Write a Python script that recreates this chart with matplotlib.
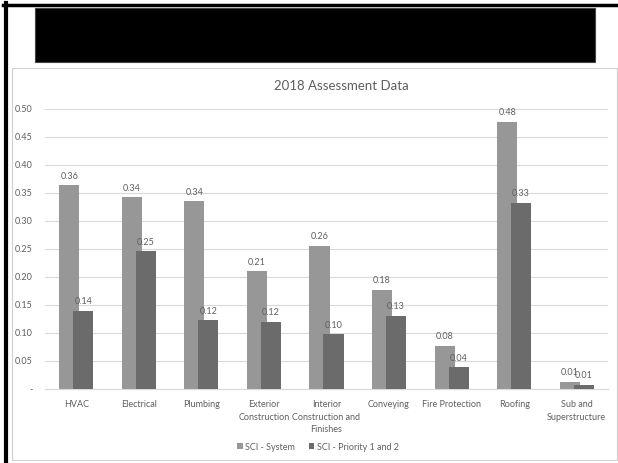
import numpy as np
import matplotlib
matplotlib.use('Agg')
import matplotlib.pyplot as plt
from matplotlib.patches import Rectangle

plt.rcParams['font.family'] = ['Lato', 'DejaVu Sans']

# Данные оценки 2018
categories = ['HVAC', 'Electrical', 'Plumbing', 'Exterior\nConstruction',
              'Interior\nConstruction and\nFinishes', 'Conveying', 'Fire Protection',
              'Roofing', 'Sub and\nSuperstructure']
sci_system = [0.364, 0.342, 0.335, 0.210, 0.256, 0.177, 0.077, 0.477, 0.013]
sci_priority = [0.140, 0.246, 0.123, 0.120, 0.098, 0.131, 0.039, 0.333, 0.008]
yticks = [0, 0.05, 0.10, 0.15, 0.20, 0.25, 0.30, 0.35, 0.40, 0.45, 0.50]
ytick_labels = ['-'] + ['%.2f' % v for v in yticks[1:]]

light = '#979797'
dark = '#6b6b6b'
text_c = '#5f5f5f'
grid_c = '#d9d9d9'

fig = plt.figure(figsize=(6.18, 4.63), dpi=100)
W, H = 618, 463

def fx(px):
    return px / W

def fy(py):
    return 1 - py / H

# Рамки и закрашенный блок сверху
fig.patches.append(Rectangle((fx(12), fy(460)), fx(605), 392 / H, transform=fig.transFigure,
                             facecolor='white', edgecolor='#d0d0d0', linewidth=0.8, zorder=-5))
fig.patches.append(Rectangle((fx(35), fy(62)), fx(560), 54 / H, transform=fig.transFigure,
                             facecolor='black', edgecolor='#444444', linewidth=0.8, zorder=-4))
fig.lines.append(plt.Line2D([fx(3), 1], [fy(4.5), fy(4.5)], transform=fig.transFigure,
                            color='black', linewidth=2.5, zorder=-4))
fig.lines.append(plt.Line2D([fx(5.5), fx(5.5)], [0, fy(3)], transform=fig.transFigure,
                            color='black', linewidth=3, zorder=-4))

ax = fig.add_axes([fx(45), fy(389), fx(563), 280 / H])
ax.set_facecolor('none')

x = np.arange(len(categories))
w = 0.32
off = 0.112
b1 = ax.bar(x - off, sci_system, w, color=light, label='SCI - System', zorder=2)
b2 = ax.bar(x + off, sci_priority, w, color=dark, label='SCI - Priority 1 and 2', zorder=3)

for xi, v in zip(x, sci_system):
    ax.text(xi - off, v + 0.008, '%.2f' % v, ha='center', va='bottom', fontsize=6.5,
            color=text_c, clip_on=False, zorder=4)
for xi, v in zip(x, sci_priority):
    ax.text(xi + off, v + 0.008, '%.2f' % v, ha='center', va='bottom', fontsize=6.5,
            color=text_c, clip_on=False, zorder=4)

ax.set_xlim(-0.5, 8.5)
ax.set_ylim(0, 0.5)
ax.set_yticks(yticks)
ax.set_yticklabels(ytick_labels)
ax.set_xticks(x)
ax.set_xticklabels(categories, linespacing=1.5)
ax.tick_params(axis='both', length=0, labelsize=6.5, colors=text_c)
ax.tick_params(axis='y', pad=9)
ax.tick_params(axis='x', pad=8)
ax.yaxis.grid(True, color=grid_c, linewidth=0.8, zorder=0)
ax.set_axisbelow(True)
for s in ['top', 'right', 'left']:
    ax.spines[s].set_visible(False)
ax.spines['bottom'].set_color(grid_c)
ax.spines['bottom'].set_linewidth(0.8)

fig.text(fx(341), fy(86), '2018 Assessment Data', ha='center', va='center',
         fontsize=9.5, color=text_c)

fig.legend(handles=[b1, b2], loc='center', bbox_to_anchor=(fx(318), fy(447)), ncol=2,
           frameon=False, fontsize=6.5, labelcolor=text_c, handlelength=0.6,
           handleheight=0.6, handletextpad=0.3, columnspacing=1.5)

fig.savefig('out.png', dpi=100)
